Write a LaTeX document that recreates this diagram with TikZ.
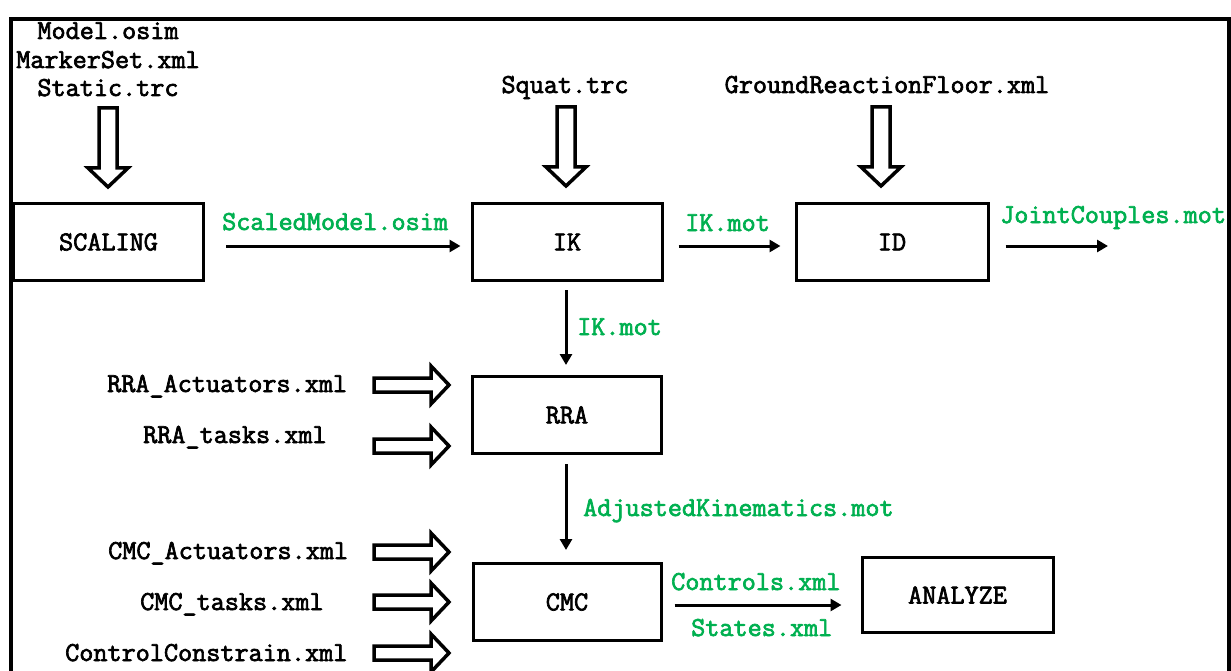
\documentclass[tikz,border=0pt]{standalone}
\usepackage{fontspec}
\newfontfamily\codefont{Latin Modern Mono}[FakeBold=2.5]
\usetikzlibrary{arrows.meta}
\definecolor{filegreen}{RGB}{0,176,80}
\begin{document}
\begin{tikzpicture}[x=1pt,y=-1pt,
  every node/.style={font=\fontsize{27.4}{29}\codefont},
  stage/.style={draw,line width=3pt,minimum height=77pt,inner sep=0pt},
  infile/.style={anchor=base,inner sep=0pt},
  sidefile/.style={anchor=base west,inner sep=0pt},
  outfile/.style={anchor=base west,inner sep=0pt,text=filegreen},
  flow/.style={line width=3pt,-{Triangle[length=11pt,width=12pt]}},
  hollow/.style={draw,line width=3.5pt,fill=white,line join=miter},
  downarrow/.pic={\draw[hollow] (-9,0) -- (-9,60) -- (-20,60) -- (0,79) -- (20,60) -- (9,60) -- (9,0) -- cycle;},
  rightarrow/.pic={\draw[hollow] (0,-7) -- (57,-7) -- (57,-19) -- (75,0) -- (57,19) -- (57,7) -- (0,7) -- cycle;}
]
\useasboundingbox (0,0) rectangle (1231,671);
\clip (0,0) rectangle (1231,671);

% outer frame, open at the bottom
\draw[line width=4pt] (11,690) -- (11,19) -- (1229,19) -- (1229,690);

% processing stages
\node[stage,minimum width=190pt] (scal) at (108.5,242) {SCALING};
\node[stage,minimum width=190pt] (ik)   at (567,242)   {IK};
\node[stage,minimum width=192pt] (id)   at (892,242)   {ID};
\node[stage,minimum width=189pt] (rra)  at (567,415)   {RRA};
\node[stage,minimum width=188pt] (cmc)  at (567,602)   {CMC};
\node[stage,minimum width=191pt,minimum height=75pt] (ana) at (957.5,595) {ANALYZE};

% input files on top
\node[infile] (model)  at (108,39) {Model.osim};
\node[infile] (marker) at (108,68) {MarkerSet.xml};
\node[infile] (static) at (108,96) {Static.trc};
\node[infile] (squat)  at (565,93) {Squat.trc};
\node[infile] (grf)    at (887,93) {GroundReactionFloor.xml};

\pic at (108,108) {downarrow};
\pic at (566,107) {downarrow};
\pic at (881,107) {downarrow};

% setting files on the left
\node[sidefile] (rraact)  at (107,392) {RRA\_Actuators.xml};
\node[sidefile] (rratask) at (143,443) {RRA\_tasks.xml};
\node[sidefile] (cmcact)  at (108,559) {CMC\_Actuators.xml};
\node[sidefile] (cmctask) at (140,610) {CMC\_tasks.xml};
\node[sidefile] (ctrl)    at (65,661)  {ControlConstrain.xml};

\pic at (374,385) {rightarrow};
\pic at (374,446) {rightarrow};
\pic at (374,552) {rightarrow};
\pic at (374,602) {rightarrow};
\pic at (374,653) {rightarrow};

% data flow between stages
\coordinate (jcend) at (1108,246);
\draw[flow] ([shift={(21,4)}]scal.east) -- ([shift={(-10,4)}]ik.west);
\draw[flow] ([shift={(15,4)}]ik.east) -- ([shift={(-14,4)}]id.west);
\draw[flow] ([shift={(16,4)}]id.east) -- (jcend);
\draw[flow] ([shift={(-1,8)}]ik.south) -- ([shift={(-1,-10)}]rra.north);
\draw[flow] ([shift={(-1,9)}]rra.south) -- ([shift={(-1,-12)}]cmc.north);
\draw[flow] ([shift={(12,3)}]cmc.east) -- ([shift={(-19,10)}]ana.west);

% produced files
\node[outfile] (scaled) at (222,230)  {ScaledModel.osim};
\node[outfile] (ikmot)  at (685,231)  {IK.mot};
\node[outfile] (joint)  at (1000,223) {JointCouples.mot};
\node[outfile] (ikmot2) at (577,335)  {IK.mot};
\node[outfile] (adj)    at (583,516)  {AdjustedKinematics.mot};
\node[outfile] (contr)  at (671,590)  {Controls.xml};
\node[outfile] (states) at (691,636)  {States.xml};
\end{tikzpicture}
\end{document}
